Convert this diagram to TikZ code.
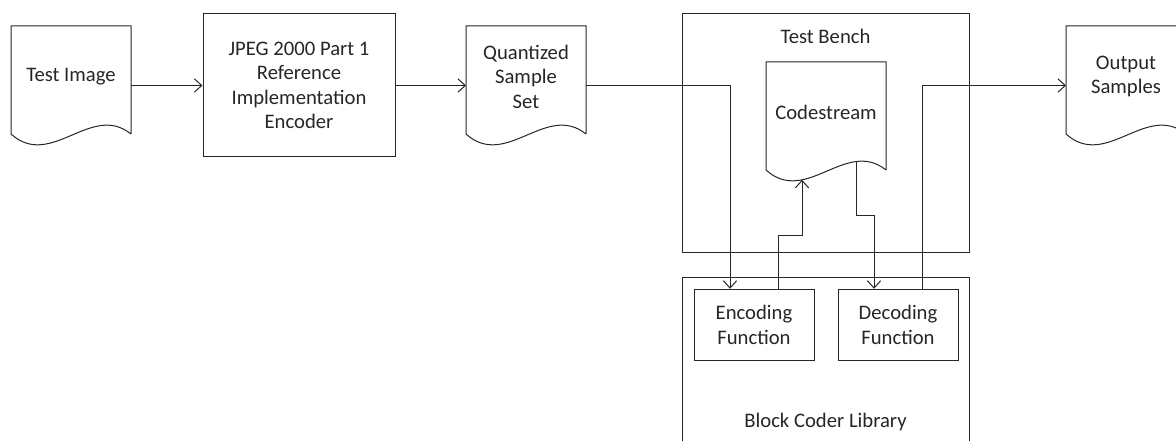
\documentclass[tikz,border=0pt]{standalone}
\usepackage{fontspec}
\setmainfont{Carlito}
\usetikzlibrary{arrows.meta}
\newcommand\docshape[1]{\draw (#1.south east) -- (#1.north east) -- (#1.north west) -- (#1.south west)
  .. controls +(40,36) and +(-40,-32) .. (#1.south east) coordinate[pos=.3] (#1-lo) coordinate[pos=.75] (#1-hi);}
\begin{document}
\begin{tikzpicture}[x=.75pt,y=-.75pt,line width=.75pt,color=black!85,
  every node/.style={font=\fontsize{15.5}{18.4}\selectfont,align=center},
  doc/.style={minimum width=90pt,minimum height=81pt,inner sep=0pt,outer sep=0pt,label={[yshift=2.5pt]center:#1}},
  box/.style={draw,minimum width=90pt,minimum height=53.6pt,inner sep=0pt},
  >={Straight Barb[length=5.5pt,width=10pt]}]
  \useasboundingbox (0,0) rectangle (1176,441);
  \clip (0,0) rectangle (1176,441);
  \node[doc={Test Image}] (tst) at (71,80) {};
  \node[draw,minimum width=144pt,minimum height=107.25pt] (jpeg) at (299,85.5) {JPEG 2000 Part 1\\Reference\\Implementation\\Encoder};
  \node[doc={Quantized\\Sample\\Set}] (qss) at (526,80) {};
  \node[draw,minimum width=215.25pt,minimum height=179.25pt] (bench) at (825.5,133.5) {};
  \node (bench-t) at (825.5,36) {Test Bench};
  \node[doc={Codestream}] (cs) at (826,116) {};
  \node[draw,minimum width=215.25pt,minimum height=130pt] (lib) at (825.5,364) {};
  \node (lib-t) at (825.5,422) {Block Coder Library};
  \node[box] (enc) at (754,325) {Encoding\\Function};
  \node[box] (dec) at (898,325) {Decoding\\Function};
  \node[doc={Output\\Samples}] (osm) at (1126,80) {};
  \docshape{tst} \docshape{qss} \docshape{cs} \docshape{osm}
  \coordinate (enc-in) at ([xshift=-18pt]enc.north);
  \coordinate (enc-out) at ([xshift=18pt]enc.north);
  \coordinate (dec-in) at ([xshift=-18pt]dec.north);
  \coordinate (dec-out) at ([xshift=18pt]dec.north);
  \draw[->] (tst.east |- jpeg.west) -- (jpeg.west);
  \draw[->] (jpeg.east) -- (qss.west |- jpeg.east);
  \draw[->] (qss.east |- jpeg.east) -| (enc-in);
  \draw[->] (enc-out) -- ++(0,-53.5) -| (cs-lo);
  \draw[->] (cs-hi) -- ++(0,54) -| (dec-in);
  \draw[->] (dec-out) |- (osm.west |- jpeg.east);
\end{tikzpicture}
\end{document}
